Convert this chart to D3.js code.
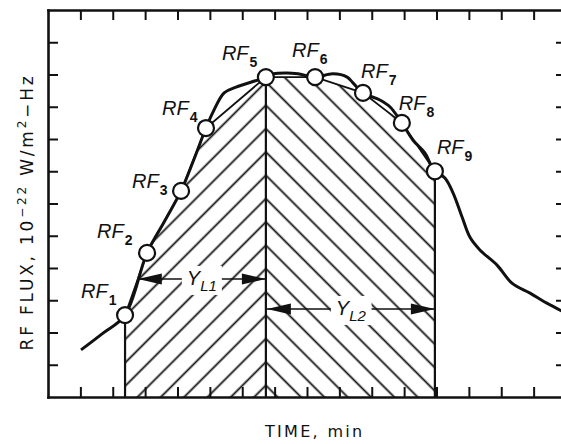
<!DOCTYPE html>
<html>
<head>
<meta charset="utf-8">
<script src="https://cdn.jsdelivr.net/npm/d3@7/dist/d3.min.js"></script>
<style>
  html, body { margin: 0; padding: 0; background: #fff; }
  svg { display: block; }
  text { font-family: "Liberation Sans", Arial, sans-serif; fill: #111; }
  text.title { font-family: "DejaVu Sans", "Liberation Sans", sans-serif; }
</style>
</head>
<body>
<svg id="chart" width="561" height="444"></svg>
<script>
// ============================================================
// RF flux vs time — hatched Y_L1 / Y_L2 areas under the RF points
// ============================================================

// --- data (minutes / 1e-22 W/m^2-Hz) ---
var curveTime = [1.02, 1.70, 2.38, 3.06, 3.60, 4.11, 4.50, 4.88, 5.10, 5.44, 5.81, 6.49, 6.73,
                 6.95, 7.38, 7.72, 8.25, 8.80, 9.24, 9.42, 9.73, 10.25, 10.56, 10.93, 11.27,
                 11.64, 11.92, 12.26, 12.51, 12.79, 13.03, 13.34, 13.87, 14.33, 14.89, 15.41, 16.00];
var curveFlux = [1.46, 1.98, 2.54, 4.47, 5.45, 6.39, 7.35, 8.34, 8.84, 9.43, 9.61, 9.83, 9.92,
                 10.02, 10.05, 10.02, 9.92, 10.02, 9.92, 9.74, 9.43, 9.21, 9.00, 8.50, 7.97,
                 7.57, 7.04, 6.79, 6.33, 5.58, 4.96, 4.56, 4.09, 3.53, 3.22, 2.91, 2.60];

var rfTime = [2.38, 3.06, 4.11, 4.88, 6.73, 8.25, 9.73, 10.93, 11.95];
var rfFlux = [2.54, 4.47, 6.39, 8.34, 9.92, 9.92, 9.43, 8.50, 7.00];
var rfLabels = ['1', '2', '3', '4', '5', '6', '7', '8', '9'];

var xTicks = [1, 2, 3, 4, 5, 6, 7, 8, 9, 10, 11, 12, 13, 14, 15];
var yTicks = [1, 2, 3, 4, 5, 6, 7, 8, 9, 10, 11];

var spanLabels = ['1', '2'];       // Y_L1, Y_L2
var spanFlux = [3.66, 2.73];       // height of the span arrows

(function () {
    'use strict';

    var HATCH = 16.5;

    var x = d3.scaleLinear().domain([0, 16]).range([48, 566]);
    var y = d3.scaleLinear().domain([0, 12]).range([397, 10]);

    var svg = d3.select('#chart');
    var defs = svg.append('defs');

    var rf = rfTime.map(function (t, i) { return { t: t, v: rfFlux[i], label: rfLabels[i] }; });
    var p1 = rf[0], p5 = rf[4], p9 = rf[8];

    // hatch patterns share an origin on the RF5 line so the chevrons meet
    function hatch(id, angle) {
        var pat = defs.append('pattern')
            .attr('id', id)
            .attr('patternUnits', 'userSpaceOnUse')
            .attr('width', HATCH).attr('height', HATCH)
            .attr('patternTransform', 'translate(' + x(p5.t) + ',' + y(0) + ') rotate(' + angle + ')');
        pat.append('line')
            .attr('x1', HATCH / 2).attr('y1', -1)
            .attr('x2', HATCH / 2).attr('y2', HATCH + 1)
            .attr('stroke', '#111').attr('stroke-width', 1.8);
    }
    hatch('hatchL', 45);
    hatch('hatchR', -45);

    // --- hatched areas ---
    function area(pts) {
        var top = pts.map(function (d) { return [x(d.t), y(d.v)]; });
        return top.concat([[x(pts[pts.length - 1].t), y(0)], [x(pts[0].t), y(0)]]);
    }
    var line = d3.line();
    svg.append('path').attr('d', line(area(rf.slice(0, 5))) + 'Z').attr('fill', 'url(#hatchL)');
    svg.append('path').attr('d', line(area(rf.slice(4))) + 'Z').attr('fill', 'url(#hatchR)');

    // straight chords between the RF points (top edge of hatching)
    svg.append('path')
        .attr('d', line(rf.map(function (d) { return [x(d.t), y(d.v)]; })))
        .attr('fill', 'none').attr('stroke', '#111').attr('stroke-width', 1.8);

    // vertical drop lines at RF1, RF5, RF9
    svg.selectAll('line.drop')
        .data([p1, p5, p9])
        .enter().append('line')
        .attr('class', 'drop')
        .attr('x1', function (d) { return x(d.t); }).attr('x2', function (d) { return x(d.t); })
        .attr('y1', function (d) { return y(d.v); }).attr('y2', y(0))
        .attr('stroke', '#111').attr('stroke-width', 2.2);

    // --- Y_L span arrows ---
    function chordX(a, b, v) {
        return x(a.t + (b.t - a.t) * (v - a.v) / (b.v - a.v));
    }
    function head(tipX, yy, dir) {
        var L = 24, w = 5.5;
        return 'M' + tipX + ',' + yy + 'L' + (tipX - dir * L) + ',' + (yy - w) +
            'L' + (tipX - dir * L) + ',' + (yy + w) + 'Z';
    }
    var spans = [
        { x1: chordX(rf[0], rf[1], spanFlux[0]), x2: x(p5.t), v: spanFlux[0], sub: 'L' + spanLabels[0] },
        { x1: x(p5.t) + 1, x2: x(p9.t), v: spanFlux[1], sub: 'L' + spanLabels[1] }
    ];
    spans.forEach(function (s) {
        var yy = y(s.v);
        var g = svg.append('g');
        g.append('line')
            .attr('x1', s.x1).attr('x2', s.x2).attr('y1', yy).attr('y2', yy)
            .attr('stroke', '#111').attr('stroke-width', 1.6);
        g.append('path').attr('d', head(s.x1, yy, -1)).attr('fill', '#111');
        g.append('path').attr('d', head(s.x2, yy, 1)).attr('fill', '#111');

        var cx = (s.x1 + s.x2) / 2;
        var bg = g.append('rect').attr('fill', '#fff');
        var t = g.append('text')
            .attr('x', cx).attr('y', yy + 6)
            .attr('text-anchor', 'middle');
        t.append('tspan').attr('font-size', 20).attr('font-style', 'italic').text('Y');
        t.append('tspan').attr('font-size', 15).attr('font-style', 'italic')
            .attr('dy', 6).text(s.sub);
        var bb = t.node().getBBox();
        bg.attr('x', bb.x - 5).attr('y', bb.y - 1).attr('width', bb.width + 10).attr('height', bb.height + 2);
    });

    // --- flux curve ---
    var curve = d3.line()
        .x(function (d) { return x(d[0]); })
        .y(function (d) { return y(d[1]); })
        .curve(d3.curveCatmullRom.alpha(0.5));
    svg.append('path')
        .datum(curveTime.map(function (t, i) { return [t, curveFlux[i]]; }))
        .attr('d', curve)
        .attr('fill', 'none').attr('stroke', '#111').attr('stroke-width', 3)
        .attr('stroke-linejoin', 'round');

    // --- RF points and labels ---
    svg.selectAll('circle.rf')
        .data(rf)
        .enter().append('circle')
        .attr('class', 'rf')
        .attr('cx', function (d) { return x(d.t); })
        .attr('cy', function (d) { return y(d.v); })
        .attr('r', 8)
        .attr('fill', '#fff').attr('stroke', '#111').attr('stroke-width', 2.2);

    // label offset from the point centre (px)
    var labelOff = [[-44, -17], [-50, -15], [-49, -3], [-44, -13], [-44, -17],
                    [-23, -20], [-2, -15], [-3, -13], [2, -17]];
    rf.forEach(function (d, i) {
        var t = svg.append('text')
            .attr('x', x(d.t) + labelOff[i][0])
            .attr('y', y(d.v) + labelOff[i][1]);
        t.append('tspan').attr('font-size', 20).attr('font-style', 'italic').text('RF');
        t.append('tspan').attr('font-size', 14).attr('font-weight', 'bold')
            .attr('dx', 1).attr('dy', 7).text(d.label);
    });

    // --- frame: inward ticks on all four sides ---
    function frame(g) {
        g.selectAll('.domain').attr('stroke', '#111').attr('stroke-width', 2.6).attr('stroke-linecap', 'square');
        g.selectAll('.tick line').attr('stroke', '#111').attr('stroke-width', 2);
    }
    svg.append('g').attr('transform', 'translate(0,' + y(0) + ')')
        .call(d3.axisBottom(x).tickValues(xTicks).tickSize(-10).tickSizeOuter(0).tickFormat(''))
        .call(frame);
    svg.append('g').attr('transform', 'translate(0,' + y(12) + ')')
        .call(d3.axisTop(x).tickValues(xTicks).tickSize(-10).tickSizeOuter(0).tickFormat(''))
        .call(frame);
    svg.append('g').attr('transform', 'translate(' + x(0) + ',0)')
        .call(d3.axisLeft(y).tickValues(yTicks).tickSize(-10).tickSizeOuter(0).tickFormat(''))
        .call(frame);
    svg.append('g').attr('transform', 'translate(' + x(16) + ',0)')
        .call(d3.axisRight(y).tickValues(yTicks).tickSize(-10).tickSizeOuter(0).tickFormat(''))
        .call(frame);

    // --- axis titles ---
    svg.append('text')
        .attr('class', 'title')
        .attr('x', 265).attr('y', 437)
        .attr('font-size', 16).attr('letter-spacing', 2.3)
        .text('TIME, min');

    var yl = svg.append('text')
        .attr('class', 'title')
        .attr('transform', 'translate(33,212) rotate(-90)')
        .attr('text-anchor', 'middle')
        .attr('font-size', 17).attr('letter-spacing', 2.8);
    yl.append('tspan').text('RF FLUX, 10');
    yl.append('tspan').attr('font-size', 12).attr('dy', -7).text('\u221222');
    yl.append('tspan').attr('dy', 7).text(' W/m');
    yl.append('tspan').attr('font-size', 12).attr('dy', -7).text('2');
    yl.append('tspan').attr('dy', 7).text('\u2212Hz');
})();
</script>
</body>
</html>
